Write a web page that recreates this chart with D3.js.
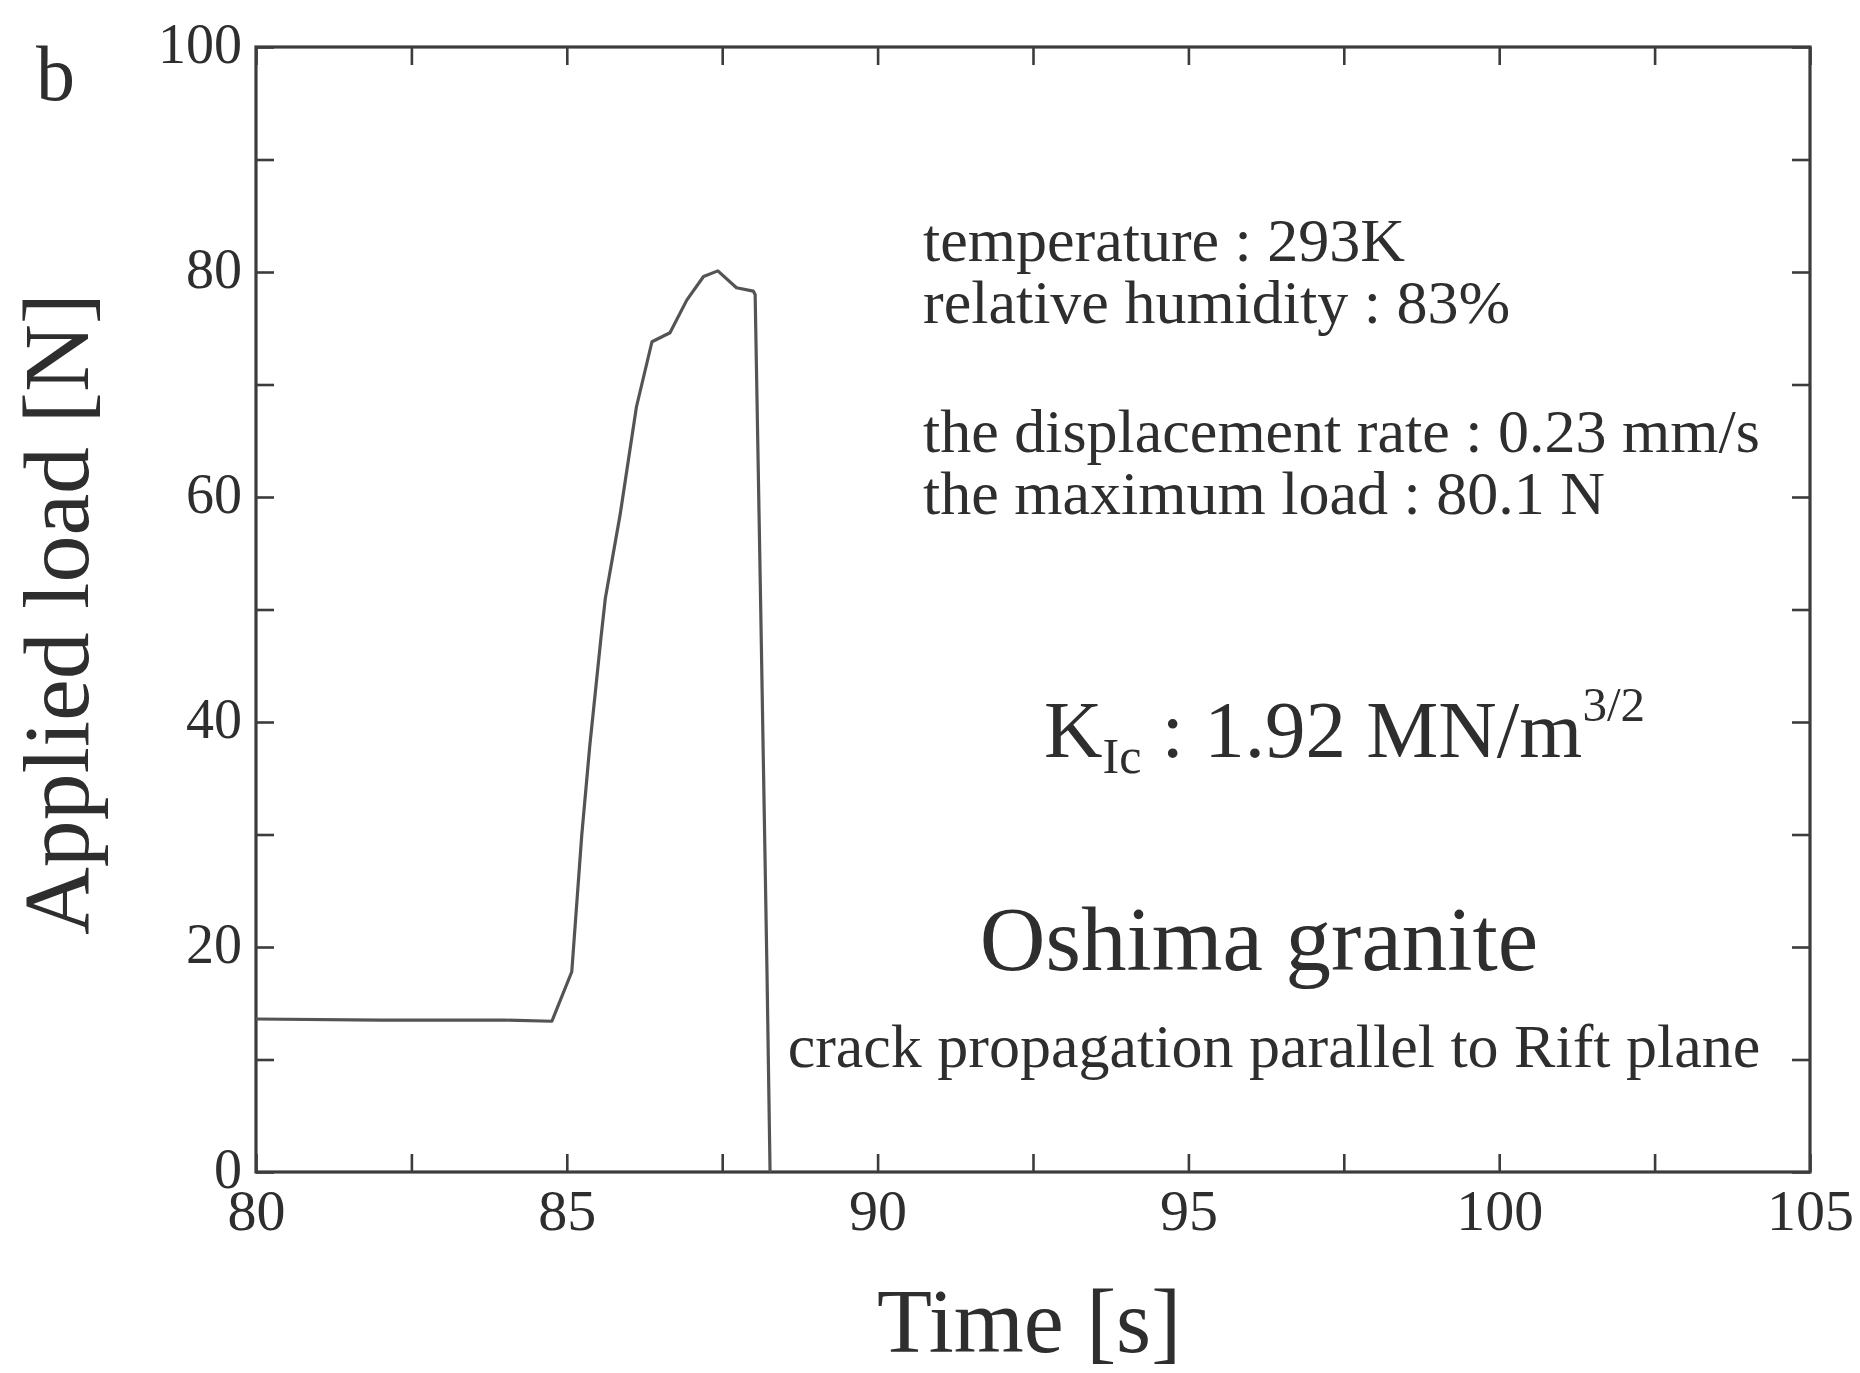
<!DOCTYPE html>
<html>
<head>
<meta charset="utf-8">
<script src="https://cdn.jsdelivr.net/npm/d3@7"></script>
<style>
  html, body { margin: 0; padding: 0; background: #fff; }
  svg { display: block; }
  text { font-family: "Liberation Serif", "Times New Roman", serif; fill: #2e2e2e; }
</style>
</head>
<body>
<svg id="chart" width="1860" height="1373"></svg>
<script>
// Load record of the fracture toughness test (time in s, load in N)
const timeValues = [80, 82, 84, 84.76, 85.08, 85.24, 85.37, 85.55, 85.62, 85.86, 86.12, 86.37, 86.66, 86.93, 87.20, 87.43, 87.73, 88.0, 88.03, 88.12, 88.22, 88.27];
const loadValues = [13.6, 13.5, 13.5, 13.4, 17.8, 29.9, 37.9, 47.5, 51.0, 58.5, 68.0, 73.8, 74.6, 77.5, 79.6, 80.1, 78.6, 78.3, 78.0, 50.0, 18.0, 0];

// Axis ticks and labels
const xTickValues = [80, 82.5, 85, 87.5, 90, 92.5, 95, 97.5, 100, 102.5, 105];
const xLabelValues = [80, 85, 90, 95, 100, 105];
const yTickValues = [0, 10, 20, 30, 40, 50, 60, 70, 80, 90, 100];
const yLabelValues = [0, 20, 40, 60, 80, 100];

// Test conditions printed inside the plot
const conditionLines = ["temperature : 293K", "relative humidity : 83%"];
const rateLines = ["the displacement rate : 0.23 mm/s", "the maximum load : 80.1 N"];
const toughness = { symbol: "K", sub: "Ic", value: " : 1.92 MN/m", sup: "3/2" };
const rockName = "Oshima granite";
const crackNote = "crack propagation parallel to Rift plane";

const svg = d3.select("#chart");
const frame = { left: 256, right: 1810, top: 47, bottom: 1172 };

const x = d3.scaleLinear().domain([80, 105]).range([frame.left, frame.right]);
const y = d3.scaleLinear().domain([0, 100]).range([frame.bottom, frame.top]);

const tickLen = 18;
const axisColor = "#3c3c3c";
const serif = '"Liberation Serif", "Times New Roman", serif';

function styleAxis(g) {
  g.select(".domain").remove();
  g.selectAll(".tick line").attr("stroke", axisColor).attr("stroke-width", 2.6);
}

// Bottom axis with labels
svg.append("g")
  .attr("transform", `translate(0,${frame.bottom})`)
  .call(d3.axisBottom(x).tickValues(xTickValues).tickSize(-tickLen).tickPadding(17)
    .tickFormat(d => xLabelValues.includes(d) ? d3.format("d")(d) : ""))
  .call(styleAxis)
  .call(g => g.selectAll(".tick text").attr("font-size", 58).attr("fill", "#2e2e2e")
    .style("font-family", serif));

// Top axis, ticks only
svg.append("g")
  .attr("transform", `translate(0,${frame.top})`)
  .call(d3.axisTop(x).tickValues(xTickValues).tickSize(-tickLen).tickFormat(""))
  .call(styleAxis);

// Left axis with labels
svg.append("g")
  .attr("transform", `translate(${frame.left},0)`)
  .call(d3.axisLeft(y).tickValues(yTickValues).tickSize(-tickLen).tickPadding(14)
    .tickFormat(d => yLabelValues.includes(d) ? d3.format("d")(d) : ""))
  .call(styleAxis)
  .call(g => g.selectAll(".tick text").attr("font-size", 56).attr("dy", "0.27em").attr("fill", "#2e2e2e")
    .style("font-family", serif));

// Right axis, ticks only
svg.append("g")
  .attr("transform", `translate(${frame.right},0)`)
  .call(d3.axisRight(y).tickValues(yTickValues).tickSize(-tickLen).tickFormat(""))
  .call(styleAxis);

// Plot frame
svg.append("rect")
  .attr("x", x(80)).attr("y", y(100))
  .attr("width", x(105) - x(80)).attr("height", y(0) - y(100))
  .attr("fill", "none").attr("stroke", axisColor).attr("stroke-width", 3.2);

// Load curve
const line = d3.line().x(d => x(d[0])).y(d => y(d[1]));
svg.append("path")
  .datum(d3.zip(timeValues, loadValues))
  .attr("d", line)
  .attr("fill", "none")
  .attr("stroke", "#545454")
  .attr("stroke-width", 3.2)
  .attr("stroke-linejoin", "round");

// Axis titles
svg.append("text")
  .attr("x", 1029).attr("y", 1352)
  .attr("text-anchor", "middle").attr("font-size", 90)
  .text("Time [s]");

svg.append("text")
  .attr("transform", "translate(88,614) rotate(-90)")
  .attr("text-anchor", "middle").attr("font-size", 94)
  .text("Applied load [N]");

// Panel letter
svg.append("text")
  .attr("x", 36).attr("y", 100)
  .attr("font-size", 78)
  .text("b");

// Annotations
const info = svg.append("g").attr("font-size", 62);
conditionLines.forEach((t, i) => {
  info.append("text").attr("x", 923).attr("y", 261 + i * 62).text(t);
});
rateLines.forEach((t, i) => {
  info.append("text").attr("x", 923).attr("y", 452 + i * 62).text(t);
});

const k = svg.append("text").attr("x", 1044).attr("y", 757).attr("font-size", 81);
k.append("tspan").text(toughness.symbol);
k.append("tspan").attr("font-size", 50).attr("dy", 16).text(toughness.sub);
k.append("tspan").attr("dy", -16).text(toughness.value);
k.append("tspan").attr("font-size", 49).attr("dy", -36).text(toughness.sup);

svg.append("text")
  .attr("x", 1259).attr("y", 970)
  .attr("text-anchor", "middle").attr("font-size", 91)
  .text(rockName);

svg.append("text")
  .attr("x", 1274).attr("y", 1067)
  .attr("text-anchor", "middle").attr("font-size", 62)
  .text(crackNote);
</script>
</body>
</html>
